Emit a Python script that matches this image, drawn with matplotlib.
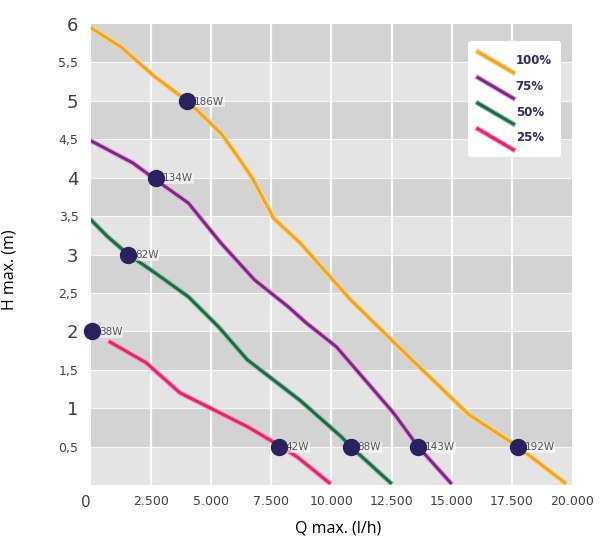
import numpy as np
import matplotlib
matplotlib.use("Agg")
import matplotlib.pyplot as plt
import matplotlib.patheffects as pe
from matplotlib.lines import Line2D
from matplotlib.legend_handler import HandlerBase

# pump curves: flow Q (l/h) and head H (m)
q100 = [0, 1250, 2670, 4000, 5400, 6000, 6700, 7600, 8700, 10800, 12850, 15700, 17750, 19700]
h100 = [5.95, 5.70, 5.31, 5.0, 4.58, 4.32, 4.0, 3.47, 3.15, 2.41, 1.78, 0.92, 0.5, 0.03]

q75 = [0, 1750, 2700, 4050, 5400, 6800, 8200, 8950, 10200, 11500, 12600, 13600, 14950]
h75 = [4.48, 4.19, 3.97, 3.67, 3.15, 2.67, 2.32, 2.11, 1.8, 1.33, 0.93, 0.5, 0.03]

q50 = [0, 700, 1550, 2670, 4050, 5300, 6500, 8700, 10400, 10800, 12450]
h50 = [3.45, 3.23, 3.0, 2.76, 2.45, 2.06, 1.63, 1.1, 0.63, 0.5, 0.03]

q25 = [800, 2300, 3700, 5100, 6500, 7800, 8600, 9900]
h25 = [1.86, 1.59, 1.2, 0.98, 0.76, 0.52, 0.36, 0.03]

# power consumption points
mark_q = [[4000, 17750], [2700, 13600], [1550, 10800], [50, 7800]]
mark_h = [[5.0, 0.5], [4.0, 0.5], [3.0, 0.5], [2.0, 0.5]]
mark_lbl = [["186W", "192W"], ["134W", "143W"], ["82W", "88W"], ["38W", "42W"]]

series_names = ["100%", "75%", "50%", "25%"]
x_ticks = [0, 2500, 5000, 7500, 10000, 12500, 15000, 17500, 20000]
x_tick_labels = ["0", "2.500", "5.000", "7.500", "10.000", "12.500", "15.000", "17.500", "20.000"]
y_ticks = [0.5, 1, 1.5, 2, 2.5, 3, 3.5, 4, 4.5, 5, 5.5, 6]
y_tick_labels = ["0,5", "1", "1,5", "2", "2,5", "3", "3,5", "4", "4,5", "5", "5,5", "6"]

colors = ["#f0a428", "#7a2a80", "#1f6a44", "#e0266e"]
halos = ["#f8d888", "#e8a8dc", "#9cc8b0", "#f49cc0"]


class DiagHandler(HandlerBase):
    # legend key drawn as a short slanted stroke
    def create_artists(self, legend, orig_handle, xdescent, ydescent,
                       width, height, fontsize, trans):
        line = Line2D([-xdescent, -xdescent + width],
                      [-ydescent + height * 0.95, -ydescent - height * 0.1],
                      color=orig_handle.get_color(), lw=orig_handle.get_linewidth(),
                      path_effects=orig_handle.get_path_effects())
        line.set_transform(trans)
        return [line]


fig = plt.figure(figsize=(6.01, 5.37), dpi=100)
ax = fig.add_axes([0.1514, 0.0968, 0.8003, 0.8585])
ax.set_facecolor("#e4e4e4")

# alternating bands
for y0 in np.arange(0.5, 6, 1.0):
    ax.axhspan(y0, y0 + 0.5, color="#d3d3d3", zorder=0, lw=0)
for y0 in np.arange(0.5, 6, 0.5):
    ax.axhline(y0, color="white", lw=0.8, alpha=0.8, zorder=0.5)
for x0 in x_ticks[1:-1]:
    ax.axvline(x0, color="white", lw=1.6, alpha=0.9, zorder=0.5)

handles = []
for q, h, c, hc, name in zip([q100, q75, q50, q25], [h100, h75, h50, h25],
                             colors, halos, series_names):
    ln, = ax.plot(q, h, color=c, lw=2.2, zorder=2, label=name,
                  solid_joinstyle="round",
                  path_effects=[pe.Stroke(linewidth=3.8, foreground=hc), pe.Normal()])
    handles.append(ln)

for mq, mh, ml in zip(mark_q, mark_h, mark_lbl):
    ax.plot(mq, mh, "o", color="#2a2160", ms=11.5, zorder=4, clip_on=False)
    for xq, yh, t in zip(mq, mh, ml):
        ax.annotate(t, (xq, yh), xytext=(5, -0.5), textcoords="offset points",
                    ha="left", va="center", fontsize=7.5, color="#555555", zorder=3,
                    bbox=dict(boxstyle="square,pad=0.05", fc="white", ec="none", alpha=0.55))

ax.set_xlim(0, 20000)
ax.set_ylim(0, 6)
for s in ax.spines.values():
    s.set_visible(False)

ax.set_xticks(x_ticks)
ax.set_xticklabels(x_tick_labels, fontsize=9, color="#404040")
ax.set_yticks(y_ticks)
ax.set_yticklabels(y_tick_labels, color="#404040")
for lbl, v in zip(ax.get_yticklabels(), y_ticks):
    lbl.set_fontsize(13 if float(v).is_integer() else 9)
ax.get_xticklabels()[0].set_horizontalalignment("right")
ax.get_xticklabels()[0].set_fontsize(11)
ax.tick_params(axis="both", length=0)
ax.tick_params(axis="x", pad=7)
ax.tick_params(axis="y", pad=9)

ax.set_ylabel("H max. (m)", family="Open Sans", fontsize=11.5)
ax.set_xlabel("Q max. (l/h)", family="Open Sans", fontsize=11.5)
ax.yaxis.set_label_coords(-0.152, 0.466)
ax.xaxis.set_label_coords(0.513, -0.076)

leg = ax.legend(handles=handles, loc="upper right", bbox_to_anchor=(0.99, 0.975),
                handler_map={Line2D: DiagHandler()}, frameon=True, fancybox=True,
                handlelength=3.0, handleheight=2.2, labelspacing=0.5,
                handletextpad=0.2, borderpad=0.8,
                prop=dict(family="DejaVu Sans", weight="bold", size=8.5))
leg.get_frame().set_facecolor("white")
leg.get_frame().set_edgecolor("none")
leg.get_frame().set_alpha(1)
for t in leg.get_texts():
    t.set_color("#2e2a5a")
leg.set_zorder(5)

fig.savefig("out.png", dpi=100)
